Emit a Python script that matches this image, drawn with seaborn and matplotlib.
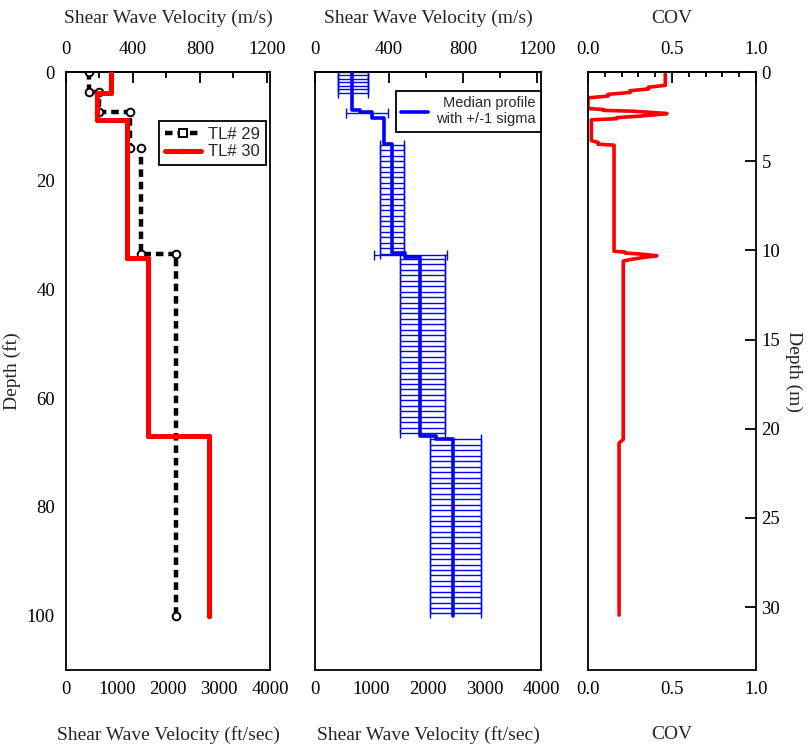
import numpy as np
import pandas as pd
import matplotlib
matplotlib.use("Agg")
import matplotlib.pyplot as plt
import seaborn as sns
from matplotlib.lines import Line2D
from matplotlib.ticker import FixedLocator, FormatStrFormatter

# ---------------- data ----------------
# Left panel: individual profiles, layers in ft, Vs in ft/s
tl29_top = [0.0, 3.6, 7.3, 13.9, 33.5]
tl29_bot = [3.6, 7.3, 13.9, 33.5, 100.0]
tl29_vs = [450, 650, 1250, 1480, 2160]

tl30_top = [0.0, 3.9, 8.8, 34.2, 66.9]
tl30_bot = [3.9, 8.8, 34.2, 66.9, 100.0]
tl30_vs = [880, 610, 1200, 1610, 2800]

# Middle panel: median profile (ft, ft/s)
med_top = [0.0, 7.0, 7.4, 8.4, 13.3, 33.3, 34.0, 67.0, 67.6]
med_bot = [7.0, 7.4, 8.4, 13.3, 33.3, 34.0, 67.0, 67.6, 100.0]
med_vs = [660, 800, 1000, 1225, 1370, 1600, 1850, 2150, 2440]

# +/- 1 sigma bars: groups of depths (ft) with bounds (ft/s)
bar_first = [0.0, 7.5, 13.4, 33.7, 34.4, 67.6]
bar_last = [3.8, 7.5, 33.4, 33.7, 66.4, 100.0]
bar_step = [0.63, 1.0, 1.0, 1.0, 1.0, 1.0]
bar_mid = [660, 900, 1370, 1600, 1850, 2440]
bar_low = [409, 551, 1156, 1049, 1511, 2044]
bar_high = [942, 1298, 1582, 2329, 2293, 2933]

# Right panel: COV profile vertices (depth in m)
cov_vals = [0.46, 0.46, 0.36, 0.36, 0.25, 0.25, 0.12, 0.12, 0.0, 0.0,
            0.09, 0.09, 0.27, 0.40, 0.47, 0.40, 0.30, 0.17, 0.17, 0.02,
            0.02, 0.06, 0.06, 0.155, 0.155, 0.22, 0.22, 0.30, 0.41, 0.33,
            0.26, 0.21, 0.21, 0.185, 0.185]
cov_depth = [0.0, 0.75, 0.85, 0.95, 1.05, 1.15, 1.25, 1.35, 1.45, 2.05,
             2.10, 2.15, 2.20, 2.28, 2.33, 2.40, 2.48, 2.56, 2.62, 2.68,
             3.85, 3.95, 4.05, 4.10, 10.05, 10.10, 10.15, 10.20, 10.30, 10.40,
             10.50, 10.60, 20.6, 20.8, 30.45]

# tick values
ft_ticks = [0, 1000, 2000, 3000, 4000]
ms_ticks = [0, 400, 800, 1200]
ms_minor = [200, 600, 1000]
depth_ft_ticks = [0, 20, 40, 60, 80, 100]
depth_m_ticks = [0, 5, 10, 15, 20, 25, 30]
cov_ticks = [0.0, 0.5, 1.0]
cov_minor = [0.1, 0.2, 0.3, 0.4, 0.6, 0.7, 0.8, 0.9]

FT2M = 0.3048


def step_vertices(tops, bots, vals):
    xs, ys = [], []
    for t, b, v in zip(tops, bots, vals):
        xs += [v, v]
        ys += [t, b]
    return pd.DataFrame({"vs": xs, "depth": ys})


sns.set_theme(style="white")
plt.rcParams["font.family"] = ["Liberation Serif", "DejaVu Serif"]
plt.rcParams["axes.edgecolor"] = "black"
plt.rcParams["axes.linewidth"] = 1.3
plt.rcParams["xtick.color"] = "black"
plt.rcParams["ytick.color"] = "black"

FS_LAB = 14
FS_TICK = 13.5

fig = plt.figure(figsize=(8.09, 7.47), dpi=100)
W, H = 809, 747


def add_ax(x0, x1, y0=72, y1=670):
    return fig.add_axes([x0 / W, 1 - y1 / H, (x1 - x0) / W, (y1 - y0) / H])


ax1 = add_ax(66, 270)
ax2 = add_ax(315, 541)
ax3 = add_ax(588, 756)


def style_ticks(ax, which_axis="both"):
    ax.tick_params(axis=which_axis, which="major", direction="in", length=8,
                   width=1.3, labelsize=FS_TICK, pad=8)
    ax.tick_params(axis=which_axis, which="minor", direction="in", length=4,
                   width=1.3)


# ---------------- left panel ----------------
d29 = step_vertices(tl29_top, tl29_bot, tl29_vs)
d30 = step_vertices(tl30_top, tl30_bot, tl30_vs)
sns.lineplot(data=d29, x="vs", y="depth", sort=False, estimator=None, ax=ax1,
             color="black", lw=3.2, linestyle=(0, (1.7, 1.1)), marker="o",
             markersize=5.5, markerfacecolor="white", markeredgecolor="black",
             markeredgewidth=1.4, zorder=2)
sns.lineplot(data=d30, x="vs", y="depth", sort=False, estimator=None, ax=ax1,
             color="red", lw=3.6, marker="o", markersize=3,
             markeredgecolor="red", zorder=3)

# ---------------- middle panel ----------------
dmed = step_vertices(med_top, med_bot, med_vs)
for f, l, s, m, lo, hi in zip(bar_first, bar_last, bar_step, bar_mid, bar_low, bar_high):
    depths = np.arange(f, l + 1e-6, s)
    ax2.errorbar(np.full(depths.shape, m), depths,
                 xerr=[np.full(depths.shape, m - lo), np.full(depths.shape, hi - m)],
                 fmt="none", ecolor="blue", elinewidth=1.0, capsize=3.5,
                 capthick=1.0, zorder=2)
sns.lineplot(data=dmed, x="vs", y="depth", sort=False, estimator=None, ax=ax2,
             color="blue", lw=2.6, zorder=3)

# ---------------- right panel ----------------
dcov = pd.DataFrame({"cov": cov_vals, "depth": cov_depth})
sns.lineplot(data=dcov, x="cov", y="depth", sort=False, estimator=None, ax=ax3,
             color="red", lw=2.6)

# ---------------- axes formatting ----------------
for ax in (ax1, ax2):
    ax.set_xlim(0, 4000)
    ax.set_ylim(110, 0)
    ax.xaxis.set_major_locator(FixedLocator(ft_ticks))
    ax.set_xlabel("Shear Wave Velocity (ft/sec)", fontsize=FS_LAB, labelpad=20)
    style_ticks(ax)
    sec = ax.secondary_xaxis("top", functions=(lambda x: x * FT2M, lambda x: x / FT2M))
    sec.xaxis.set_major_locator(FixedLocator(ms_ticks))
    sec.xaxis.set_minor_locator(FixedLocator(ms_minor))
    sec.tick_params(which="major", direction="in", length=8, width=1.3,
                    labelsize=FS_TICK, pad=10)
    sec.tick_params(which="minor", direction="in", length=4.5, width=1.3)
    sec.set_xlabel("Shear Wave Velocity (m/s)", fontsize=FS_LAB, labelpad=13)
    for sp in ax.spines.values():
        sp.set_visible(True)
        sp.set_color("black")

ax1.yaxis.set_major_locator(FixedLocator(depth_ft_ticks))
ax1.set_ylabel("Depth (ft)", fontsize=FS_LAB, labelpad=4)
ax2.set_ylabel("")
ax2.set_yticks([])

ax3.set_xlim(0, 1.0)
ax3.set_ylim(110 * FT2M, 0)
ax3.xaxis.set_major_locator(FixedLocator(cov_ticks))
ax3.xaxis.set_minor_locator(FixedLocator(cov_minor))
ax3.xaxis.set_major_formatter(FormatStrFormatter("%.1f"))
ax3.yaxis.set_major_locator(FixedLocator(depth_m_ticks))
ax3.yaxis.tick_right()
ax3.yaxis.set_label_position("right")
style_ticks(ax3)
ax3.tick_params(axis="y", pad=4)
ax3.tick_params(axis="x", which="minor", length=3.5)
ax3.set_xlabel("COV", fontsize=FS_LAB, labelpad=20)
ax3.set_ylabel("Depth (m)", fontsize=FS_LAB, rotation=270, labelpad=16)
sec3 = ax3.secondary_xaxis("top")
sec3.xaxis.set_major_locator(FixedLocator(cov_ticks))
sec3.xaxis.set_minor_locator(FixedLocator(cov_minor))
sec3.xaxis.set_major_formatter(FormatStrFormatter("%.1f"))
sec3.tick_params(which="major", direction="in", length=8, width=1.3,
                 labelsize=FS_TICK, pad=10)
sec3.tick_params(which="minor", direction="in", length=3.5, width=1.3)
sec3.set_xlabel("COV", fontsize=FS_LAB, labelpad=13)
for sp in ax3.spines.values():
    sp.set_visible(True)
    sp.set_color("black")

# ---------------- legends ----------------
h29 = Line2D([], [], color="black", lw=3.2, linestyle=(0, (1.7, 1.1)), marker="s",
             markersize=6, markerfacecolor="white", markeredgecolor="black",
             markeredgewidth=1.4)
h30 = Line2D([], [], color="red", lw=3.6, marker="o", markersize=3)
leg1 = ax1.legend([h29, h30], ["TL# 29", "TL# 30"], loc="upper right",
                  bbox_to_anchor=(0.98, 0.918), borderaxespad=0, frameon=True,
                  fancybox=False, edgecolor="black", framealpha=1, borderpad=0.35,
                  handlelength=2.2, handletextpad=0.4, labelspacing=0.15,
                  prop={"family": "Liberation Sans", "size": 12})
leg1.get_frame().set_linewidth(1.3)

hmed = Line2D([], [], color="blue", lw=2.6)
leg2 = ax2.legend([hmed], ["Median profile\nwith +/-1 sigma"], loc="upper right",
                  bbox_to_anchor=(1.0, 0.968), borderaxespad=0, frameon=True,
                  fancybox=False, edgecolor="black", framealpha=1, borderpad=0.35,
                  handlelength=1.8, handletextpad=0.6,
                  prop={"family": "Liberation Sans", "size": 10.5})
leg2.get_frame().set_linewidth(1.3)
for t in leg2.get_texts():
    t.set_multialignment("right")

fig.savefig("out.png", dpi=100)
